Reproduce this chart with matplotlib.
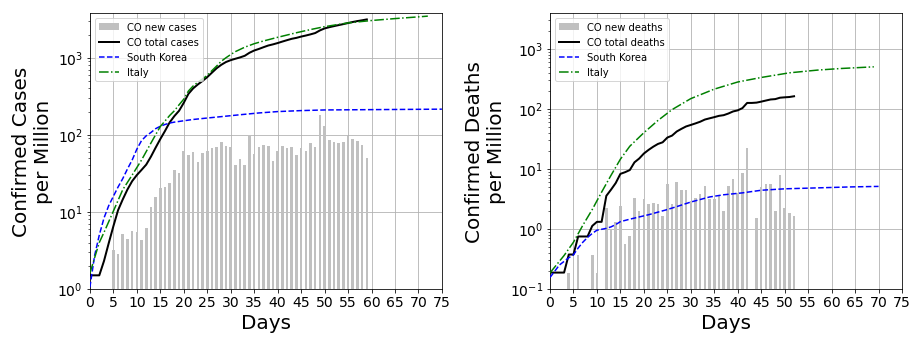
import matplotlib
matplotlib.use('Agg')
import matplotlib.pyplot as plt

# ---------------- data: cases ----------------
case_bar_days = list(range(5, 60))
case_bar_vals = [3.2, 2.8, 5.2, 4.4, 5.6, 5.4, 4.3, 6.1,
                 11.4, 15.8, 20.6, 21.2, 23.9, 35, 32,
                 62, 55, 60, 45, 58, 62, 68, 70, 81, 72,
                 70, 41, 48, 41, 100, 57, 70, 74, 72, 46,
                 62, 72, 68, 70, 55, 68, 62, 79, 70, 181,
                 131, 86, 81, 79, 81, 97, 89, 83, 74, 50]

case_total_days = list(range(0, 60))
case_total_vals = [1.5, 1.5, 1.5, 2.3, 3.9, 6.5, 10.5, 14.5, 19.5, 25,
                   30, 35, 41, 52, 68, 88, 112, 145, 175, 205,
                   260, 340, 400, 450, 500, 560, 640, 730, 810, 880,
                   930, 970, 1010, 1060, 1160, 1240, 1300, 1370, 1440, 1490,
                   1550, 1620, 1690, 1760, 1810, 1880, 1940, 2010, 2090, 2260,
                   2400, 2490, 2570, 2650, 2730, 2820, 2910, 2990, 3060, 3140]

kr_case_days = [0, 1, 2, 3, 4, 5, 6, 7, 8, 9, 10, 11, 12, 13, 14, 15, 16, 17, 18,
                20, 22, 25, 28, 32, 36, 40, 45, 50, 55, 60, 65, 70, 75]
kr_case_vals = [1.05, 2.7, 5.0, 8.3, 12, 15.9, 21, 27, 36, 47, 65, 84, 97, 107, 120,
                129, 136, 142, 146, 152, 158, 165, 172, 182, 192, 200, 206, 210,
                211, 212, 213, 214, 215]

it_case_days = [0, 2, 3, 5, 7, 9, 11, 13, 15, 17, 18, 19, 20, 21, 22, 23, 24, 25,
                26, 27, 28, 29, 30, 31, 33, 35, 37, 40, 44, 47, 50, 55, 60, 65, 70, 72]
it_case_vals = [1.6, 4.0, 5.4, 10.2, 19.4, 30, 47, 78, 128, 178, 205, 245, 290, 370,
                430, 480, 530, 590, 680, 780, 900, 1000, 1100, 1200, 1370, 1520,
                1650, 1840, 2110, 2320, 2530, 2830, 3040, 3220, 3390, 3465]

# ---------------- data: deaths ----------------
death_bar_days = [4, 6, 9, 10] + list(range(12, 43)) + list(range(44, 53))
death_bar_vals = [0.187, 0.373, 0.373, 0.187,
                  2.24, 0.95, 1.3, 2.44, 0.55, 0.75, 3.3, 2.0, 3.2, 2.64,
                  2.74, 2.64, 1.62, 5.5, 2.64, 6.1, 4.5, 4.5, 2.96, 3.3,
                  3.87, 5.27, 3.2, 3.2, 3.7, 2.0, 5.1, 6.9, 4.0, 8.4, 22.6,
                  1.49, 4.9, 5.7, 5.7, 2.0, 8.0, 2.26, 1.87, 1.66]

death_total_days = list(range(0, 53))
death_total_vals = [0.187, 0.187, 0.187, 0.187, 0.374, 0.374, 0.747, 0.747, 0.747, 1.12,
                    1.31, 1.31, 3.55, 4.5, 5.8, 8.25, 8.8, 9.55, 12.85, 14.85,
                    18, 20.7, 23.4, 26, 27.7, 33.2, 35.8, 41.9, 46.4, 50.9,
                    53.9, 57.2, 61, 66.3, 69.5, 72.7, 76.4, 78.4, 83.5, 90.4,
                    94.4, 102.8, 125.4, 125.4, 126.9, 131.8, 137.5, 143.2, 145.2, 153.2,
                    155.5, 157.4, 162]

kr_death_days = [0, 2, 4, 5, 6, 7, 8, 9, 10, 12, 13, 14, 15, 17, 19, 21, 23, 25, 27,
                 30, 34, 37, 41, 45, 50, 57, 64, 70]
kr_death_vals = [0.155, 0.25, 0.33, 0.37, 0.48, 0.6, 0.72, 0.84, 0.95, 1.02, 1.08,
                 1.18, 1.32, 1.45, 1.58, 1.72, 1.9, 2.1, 2.35, 2.8, 3.4, 3.7, 3.98,
                 4.4, 4.65, 4.82, 5.0, 5.1]

it_death_days = [0, 3, 5, 7, 9, 11, 13, 15, 17, 20, 23, 26, 30, 35, 40, 45, 51, 57, 62, 69]
it_death_vals = [0.185, 0.36, 0.6, 1.15, 2.1, 4.1, 7.8, 14.5, 23.8, 40, 64, 97, 148,
                 213, 280, 333, 398, 442, 470, 501]

xticks = list(range(0, 80, 5))

# ---------------- figure ----------------
fig = plt.figure(figsize=(12.8, 4.8), dpi=72)
W, H = 921.6, 345.6
ax1 = fig.add_axes([89.9 / W, (H - 289.5) / H, 352 / W, 275.5 / H])
ax2 = fig.add_axes([550 / W, (H - 289.5) / H, 352 / W, 275.5 / H])

bar_color = '#c0c0c0'


def draw(ax, bdays, bvals, tdays, tvals, kdays, kvals, idays, ivals,
         bar_label, tot_label, ylabel, ylim):
    ax.set_yscale('log')
    b = ax.bar(bdays, bvals, width=0.55, color=bar_color, label=bar_label, zorder=2)
    l1, = ax.plot(tdays, tvals, color='k', lw=2, label=tot_label, zorder=3)
    l2, = ax.plot(kdays, kvals, color='b', ls='--', lw=1.5, label='South Korea', zorder=3)
    l3, = ax.plot(idays, ivals, color='g', ls='-.', lw=1.5, label='Italy', zorder=3)
    ax.set_xlim(0, 75)
    ax.set_ylim(*ylim)
    ax.set_xticks(xticks)
    ax.grid(True, which='major', color='#b0b0b0', lw=0.8, zorder=0)
    ax.set_axisbelow(True)
    ax.tick_params(labelsize=14)
    ax.set_xlabel('Days', fontsize=20)
    ax.set_ylabel(ylabel, fontsize=20)
    ax.legend([b, l1, l2, l3], [bar_label, tot_label, 'South Korea', 'Italy'],
              loc='upper left', fontsize=10)


draw(ax1, case_bar_days, case_bar_vals, case_total_days, case_total_vals,
     kr_case_days, kr_case_vals, it_case_days, it_case_vals,
     'CO new cases', 'CO total cases', 'Confirmed Cases\nper Million', (1, 3760))
draw(ax2, death_bar_days, death_bar_vals, death_total_days, death_total_vals,
     kr_death_days, kr_death_vals, it_death_days, it_death_vals,
     'CO new deaths', 'CO total deaths', 'Confirmed Deaths\nper Million', (0.1, 3890))

fig.savefig('out.png', dpi=72)
